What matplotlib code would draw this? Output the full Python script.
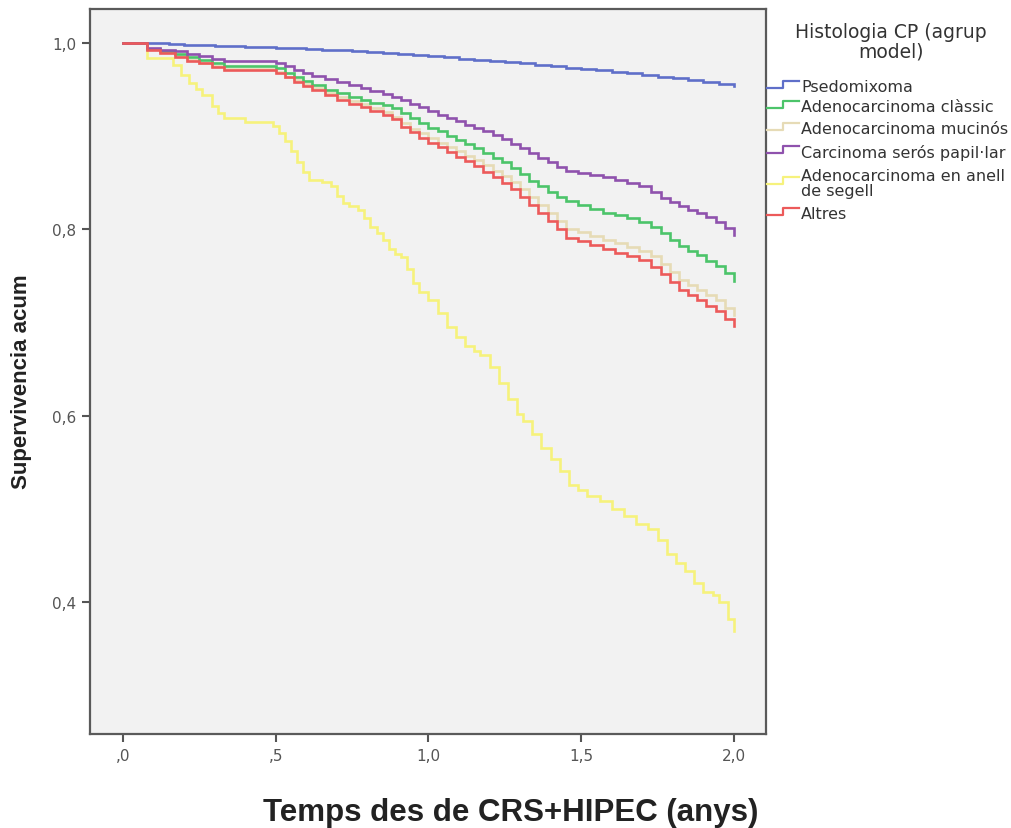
import numpy as np
import matplotlib.pyplot as plt
from matplotlib.lines import Line2D

W, H = 1012, 829

# Kaplan-Meier curves (time in years, cumulative survival)
t_psedo = [0, .05, .1, .15, .2, .25, .3, .35, .4, .45, .5, .55, .6, .65, .7, .75, .8, .85, .9, .95,
           1.0, 1.05, 1.1, 1.15, 1.2, 1.25, 1.3, 1.35, 1.4, 1.45, 1.5, 1.55, 1.6, 1.65, 1.7, 1.75,
           1.8, 1.85, 1.9, 1.95, 2.0]
s_psedo = [1.0, 1.0, .9995, .999, .998, .9975, .997, .9965, .996, .9955, .995, .9945, .994, .993,
           .992, .991, .990, .989, .988, .987, .986, .9845, .983, .982, .981, .9795, .978, .9765,
           .975, .9735, .972, .9705, .969, .9675, .966, .964, .962, .960, .958, .956, .954]

t_common = [0, .08, .12, .17, .21, .25, .29, .33, .50, .53, .56, .59, .62, .66, .70, .74, .78, .81,
            .85, .88, .91, .94, .97, 1.00, 1.03, 1.06, 1.09, 1.12, 1.15, 1.18, 1.21, 1.24, 1.27,
            1.30, 1.33, 1.36, 1.39, 1.42, 1.45, 1.49, 1.53, 1.57, 1.61, 1.65, 1.69, 1.73, 1.76,
            1.79, 1.82, 1.85, 1.88, 1.91, 1.94, 1.97, 2.00]
s_classic = [1.0, .994, .991, .988, .985, .982, .978, .975, .973, .968, .963, .959, .955, .950,
             .946, .942, .939, .936, .933, .930, .925, .920, .914, .909, .905, .900, .896, .892,
             .887, .882, .877, .872, .866, .859, .852, .846, .840, .835, .830, .826, .822, .818,
             .815, .812, .808, .802, .796, .789, .782, .777, .772, .766, .761, .753, .744]
s_mucinos = [1.0, .994, .990, .986, .982, .979, .975, .972, .969, .964, .960, .956, .952, .946,
             .942, .938, .934, .930, .926, .921, .914, .908, .903, .898, .893, .888, .884, .879,
             .874, .869, .863, .857, .851, .843, .835, .826, .818, .809, .800, .797, .793, .789,
             .785, .781, .777, .771, .763, .754, .746, .740, .735, .729, .724, .716, .708]
s_seros = [1.0, .995, .993, .991, .988, .986, .983, .981, .979, .975, .971, .968, .965, .961,
           .958, .955, .952, .949, .945, .942, .939, .935, .931, .927, .923, .920, .916, .912,
           .909, .905, .901, .897, .892, .887, .882, .877, .872, .867, .863, .860, .858, .856,
           .853, .850, .846, .840, .834, .829, .825, .821, .817, .813, .808, .801, .794]
s_altres = [1.0, .993, .989, .985, .981, .978, .974, .971, .968, .963, .958, .954, .950, .944,
            .939, .935, .931, .927, .923, .918, .910, .904, .898, .893, .888, .883, .878, .873,
            .868, .862, .856, .850, .843, .835, .826, .817, .809, .800, .791, .787, .783, .779,
            .775, .771, .767, .760, .752, .743, .735, .729, .724, .718, .712, .704, .696]

t_anell = [0, .08, .165, .19, .215, .24, .26, .29, .31, .33, .40, .49, .51, .53, .55, .57, .59, .61,
           .65, .68, .70, .72, .74, .77, .79, .81, .83, .85, .87, .89, .91, .93, .95, .97, 1.00,
           1.03, 1.06, 1.09, 1.12, 1.15, 1.17, 1.20, 1.23, 1.26, 1.29, 1.31, 1.34, 1.37, 1.40,
           1.43, 1.46, 1.49, 1.52, 1.56, 1.60, 1.64, 1.68, 1.72, 1.75, 1.78, 1.81, 1.84, 1.87,
           1.90, 1.93, 1.95, 1.98, 2.00]
s_anell = [1.0, .984, .976, .966, .957, .951, .944, .932, .925, .919, .915, .911, .903, .895,
           .884, .872, .862, .853, .851, .847, .836, .828, .825, .821, .812, .803, .796, .788,
           .779, .774, .770, .757, .742, .733, .724, .710, .695, .684, .675, .669, .665, .652,
           .635, .618, .602, .594, .580, .565, .553, .540, .526, .520, .514, .508, .500, .492,
           .484, .478, .466, .451, .442, .433, .420, .411, .407, .400, .382, .369]

labels = ["Psedomixoma", "Adenocarcinoma clàssic", "Adenocarcinoma mucinós",
          "Carcinoma serós papil·lar", "Adenocarcinoma en anell\nde segell", "Altres"]
colors = ["#5f6fc9", "#4cc46a", "#e6dbb6", "#8f52ad", "#f6f27c", "#ec5a5a"]

x_ticks = [0, 0.5, 1.0, 1.5, 2.0]
x_ticklabels = [",0", ",5", "1,0", "1,5", "2,0"]
y_ticks = [0.4, 0.6, 0.8, 1.0]
y_ticklabels = ["0,4", "0,6", "0,8", "1,0"]

fig = plt.figure(figsize=(W / 100, H / 100), dpi=100)
ax = fig.add_axes([90 / W, 1 - 735 / H, 676 / W, 725 / H])
ax.set_facecolor("#f2f2f2")

series = [(t_psedo, s_psedo), (t_common, s_classic), (t_common, s_mucinos),
          (t_common, s_seros), (t_anell, s_anell), (t_common, s_altres)]
# draw order: light ones first so red stays on top like the original
for i in [4, 2, 0, 1, 3, 5]:
    t, s = series[i]
    ax.plot(t, s, drawstyle="steps-post", color=colors[i], lw=1.9, solid_joinstyle="miter")

ax.set_xlim(-0.108, 2.105)
ax.set_ylim(0.2582, 1.0365)
ax.set_xticks(x_ticks)
ax.set_xticklabels(x_ticklabels)
ax.set_yticks(y_ticks)
ax.set_yticklabels(y_ticklabels)
ax.tick_params(length=6, width=1.5, color="#555555", labelcolor="#555555",
               labelsize=11, pad=4)
for sp in ax.spines.values():
    sp.set_color("#5a5a5a")
    sp.set_linewidth(1.6)

fig.text(511 / W, 1 - 821 / H, "Temps des de CRS+HIPEC (anys)", ha="center", va="baseline",
         fontsize=22.5, fontweight="bold", family="Liberation Sans", color="#222222")
fig.text(22 / W, 1 - 382 / H, "Supervivencia acum", ha="center", va="center", rotation=90,
         fontsize=16, fontweight="bold", family="Liberation Sans", color="#222222")

# legend, drawn by hand to get the SPSS look
fig.text(891 / W, 1 - 42 / H, "Histologia CP (agrup\nmodel)", ha="center", va="center",
         fontsize=13.5, color="#333333", linespacing=1.05)
text_y = [88, 108, 130, 153, 184, 215]
for lab, col, ty in zip(labels, colors, text_y):
    fig.text(801 / W, 1 - ty / H, lab, ha="left", va="center", fontsize=11.5,
             color="#333333", linespacing=1.0)
    hx = np.array([767, 783, 783, 799]) / W
    hy = 1 - np.array([ty + 1, ty + 1, ty - 6, ty - 6]) / H
    fig.add_artist(Line2D(hx, hy, color=col, lw=1.6, transform=fig.transFigure))

fig.savefig("out.png", dpi=100, facecolor="white")
